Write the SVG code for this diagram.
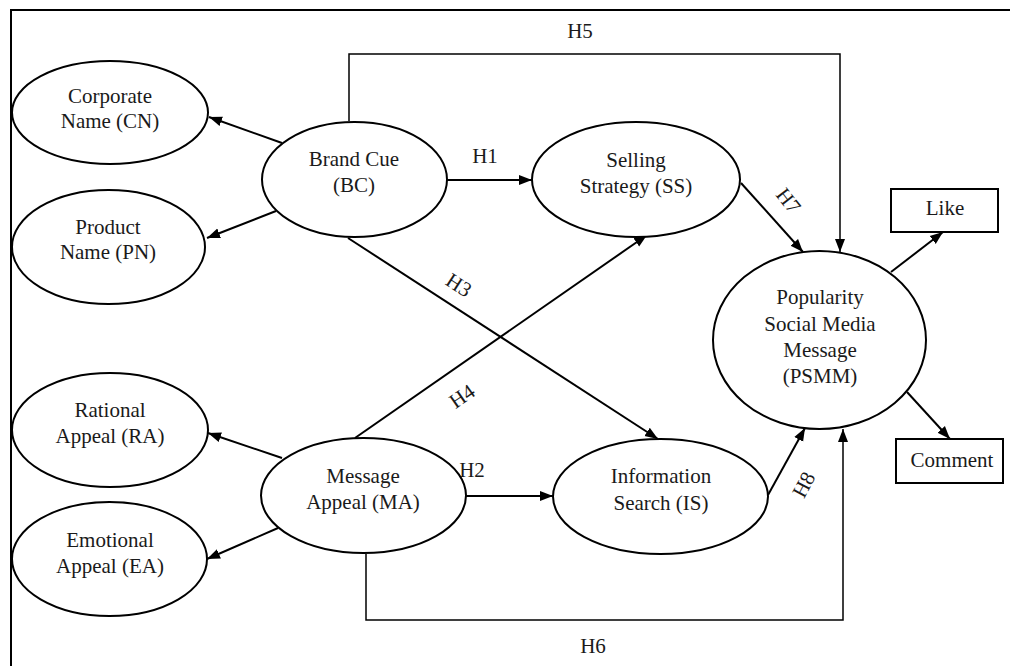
<svg xmlns="http://www.w3.org/2000/svg" width="1010" height="666" viewBox="0 0 1010 666">
<style>
.n{fill:#fff;stroke:#000;stroke-width:2}
.t{font-family:"Liberation Serif","Times New Roman",serif;font-size:21px;fill:#1a1a1a;text-anchor:middle}
.c{fill:none;stroke:#000;stroke-width:2}
.thin{fill:none;stroke:#000;stroke-width:1.5}
</style>
<defs>
<marker id="a" markerUnits="userSpaceOnUse" markerWidth="14" markerHeight="12" refX="13" refY="6" orient="auto">
<path d="M0,1 L13,6 L0,11 Z" fill="#000"/>
</marker>
</defs>
<rect width="1010" height="666" fill="#fff"/>
<path d="M11,666 V10 H1010" fill="none" stroke="#000" stroke-width="2"/>
<g id="connectors">
<path class="c" d="M282,143 L209,117" marker-end="url(#a)"/>
<path class="c" d="M276,211 L207,238" marker-end="url(#a)"/>
<path class="thin" d="M349,121 V54 H840 V252" marker-end="url(#a)"/>
<path class="c" d="M447,180 L532,180" marker-end="url(#a)"/>
<path class="c" d="M741,183 L803,252" marker-end="url(#a)"/>
<path class="c" d="M891,272 L943,232" marker-end="url(#a)"/>
<path class="c" d="M907,392 L950,439" marker-end="url(#a)"/>
<path class="c" d="M348,238 L658,439" marker-end="url(#a)"/>
<path class="c" d="M355,438 L647,235" marker-end="url(#a)"/>
<path class="c" d="M282,458 L208,433" marker-end="url(#a)"/>
<path class="c" d="M278,528 L207,559" marker-end="url(#a)"/>
<path class="c" d="M466,496 L553,496" marker-end="url(#a)"/>
<path class="c" d="M768,495 L805,428" marker-end="url(#a)"/>
<path class="thin" d="M366,554 V620 H843 V429" marker-end="url(#a)"/>
<text class="t" x="580" y="38">H5</text>
<text class="t" x="485" y="163">H1</text>
<text class="t" x="472" y="477">H2</text>
<text class="t" x="593" y="653">H6</text>
<text class="t" transform="translate(455,291) rotate(33)">H3</text>
<text class="t" transform="translate(466,402) rotate(-35)">H4</text>
<text class="t" transform="translate(783,205) rotate(52)">H7</text>
<text class="t" transform="translate(810,488) rotate(-62)">H8</text>
</g>
<g id="CN"><ellipse class="n" cx="110" cy="112.5" rx="98" ry="51.5"/><text class="t" x="110" y="103">Corporate</text><text class="t" x="110" y="128">Name (CN)</text></g>
<g id="PN"><ellipse class="n" cx="108.5" cy="247" rx="96.5" ry="57"/><text class="t" x="108" y="234">Product</text><text class="t" x="108" y="259">Name (PN)</text></g>
<g id="BC"><ellipse class="n" cx="354.5" cy="179.5" rx="92.5" ry="57.5"/><text class="t" x="354" y="166">Brand Cue</text><text class="t" x="354" y="192">(BC)</text></g>
<g id="SS"><ellipse class="n" cx="636" cy="179.5" rx="104" ry="57.5"/><text class="t" x="636" y="167">Selling</text><text class="t" x="636" y="193">Strategy (SS)</text></g>
<g id="PSMM"><ellipse class="n" cx="819.5" cy="340" rx="106.5" ry="89"/><text class="t" x="820" y="304">Popularity</text><text class="t" x="820" y="330.5">Social Media</text><text class="t" x="820" y="357">Message</text><text class="t" x="820" y="383">(PSMM)</text></g>
<g id="Like"><rect class="n" x="891" y="189" width="107" height="43"/><text class="t" x="945" y="215">Like</text></g>
<g id="Comment"><rect class="n" x="896" y="439" width="107" height="44"/><text class="t" x="952" y="467">Comment</text></g>
<g id="RA"><ellipse class="n" cx="110" cy="430" rx="98" ry="57"/><text class="t" x="110" y="417">Rational</text><text class="t" x="110" y="443">Appeal (RA)</text></g>
<g id="EA"><ellipse class="n" cx="109.5" cy="559" rx="97.5" ry="57"/><text class="t" x="110" y="547">Emotional</text><text class="t" x="110" y="573">Appeal (EA)</text></g>
<g id="MA"><ellipse class="n" cx="363.5" cy="495.5" rx="102.5" ry="57.5"/><text class="t" x="363" y="483">Message</text><text class="t" x="363" y="509">Appeal (MA)</text></g>
<g id="IS"><ellipse class="n" cx="660.5" cy="496.5" rx="107.5" ry="57.5"/><text class="t" x="661" y="483">Information</text><text class="t" x="661" y="510">Search (IS)</text></g>
</svg>
